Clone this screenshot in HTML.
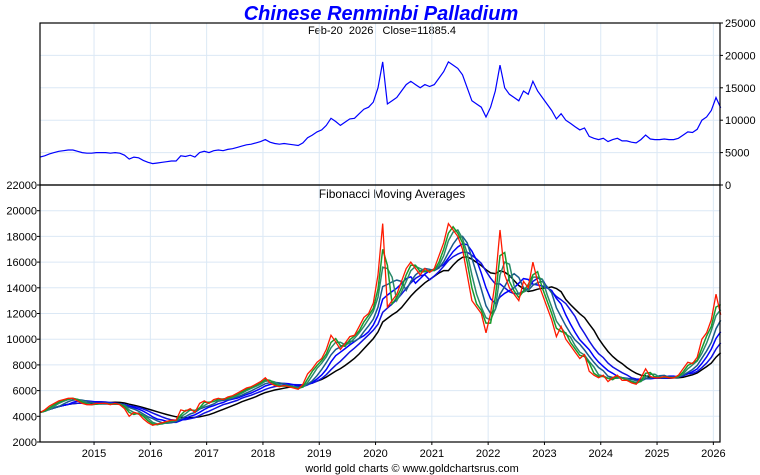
<!DOCTYPE html>
<html><head><meta charset="utf-8"><style>
body{margin:0;background:#fff;width:760px;height:475px;overflow:hidden}
svg{display:block;font-family:"Liberation Sans",sans-serif}
</style></head><body>
<svg id="c" width="760" height="475">
<text x="381" y="20" text-anchor="middle" font-size="20" font-weight="bold" font-style="italic" fill="#0000ff">Chinese Renminbi Palladium</text>
<text x="382" y="34" text-anchor="middle" font-size="11" fill="#000" xml:space="preserve">Feb-20  2026   Close=11885.4</text>
<text x="392" y="198" text-anchor="middle" font-size="12" fill="#000">Fibonacci Moving Averages</text>
<text x="412" y="472" text-anchor="middle" font-size="11" fill="#000">world gold charts © www.goldchartsrus.com</text>
<g id="grid"></g><g id="series"></g><g id="axes"></g>
</svg>
<script>
const years=[2015,2016,2017,2018,2019,2020,2021,2022,2023,2024,2025,2026];
const topTicks=[0,5000,10000,15000,20000,25000];
const botTicks=[2000,4000,6000,8000,10000,12000,14000,16000,18000,20000,22000];
const startYear=2014.04;
const endYear=2026.13;
const prices=[
4300,4500,4800,5000,5200,5300,5400,5400,5200,5000,4900,4900,
5000,5000,5000,4900,5000,4900,4600,4000,4300,4200,3800,3500,
3300,3400,3500,3600,3700,3700,4500,4400,4600,4300,5000,5200,
5000,5300,5400,5300,5500,5600,5800,6000,6200,6300,6500,6700,
7000,6600,6400,6300,6400,6300,6200,6100,6500,7300,7700,8200,
8500,9200,10300,9800,9200,9700,10200,10300,11000,11700,12000,12800,
15000,19000,12500,13000,13500,14500,15500,16000,15500,15000,15500,15200,
15500,16500,17500,19000,18500,18000,17000,15000,13000,12500,12000,10500,
12000,14500,18500,15000,14000,13500,13000,14500,14000,16000,14500,13500,
12500,11500,10200,11000,10000,9500,9000,8500,8800,7500,7200,7000,
7200,6700,7000,7200,6800,6800,6600,6500,7000,7700,7100,7000,
7000,7100,7000,7000,7200,7700,8200,8100,8600,10000,10500,11500,
13500,11900];
const maPeriods=[2,3,5,7,10,14];
const maColors=["#1a9a2a","#2a8a6a","#1a5a8a","#0000ff","#1010e0","#000000"];
(function(){
const L=40,R=720,T1=23,B1=185,T2=185,B2=442;
const xs=y=>L+(y-startYear)*56.3;
const yTop=v=>B1-(v/25000)*(B1-T1);
const yBot=v=>B2-((v-2000)/20000)*(B2-T2);
const NS="http://www.w3.org/2000/svg";
function mk(tag,attrs,parent){const e=document.createElementNS(NS,tag);for(const k in attrs)e.setAttribute(k,attrs[k]);parent.appendChild(e);return e;}
const G=document.getElementById('grid'),S=document.getElementById('series'),A=document.getElementById('axes');
years.forEach(y=>{const x=xs(y);
 const g=mk('line',{x1:x,x2:x,y1:T1,y2:B2,stroke:'#dbe8f5','stroke-width':1},G);
 
 
 const t=mk('text',{x:x,y:457,'text-anchor':'middle','font-size':11},A);t.textContent=y;
 
 
 mk('line',{x1:x,x2:x,y1:B2,y2:B2+3,stroke:'#000'},A);
});
topTicks.forEach(v=>{const y=yTop(v);
 if(v>0&&v<25000){const g=mk('line',{x1:L,x2:R,y1:y,y2:y,stroke:'#dbe8f5'},G);
 
 }
 const t=mk('text',{x:R+5,y:y+4,'font-size':11},A);t.textContent=v;
 
 
 mk('line',{x1:R,x2:R+3,y1:y,y2:y,stroke:'#000'},A);
});
botTicks.forEach(v=>{const y=yBot(v);
 if(v<22000){const g=mk('line',{x1:L,x2:R,y1:y,y2:y,stroke:'#dbe8f5'},G);
 
 }
 const t=mk('text',{x:L-3,y:y+4,'text-anchor':'end','font-size':11},A);t.textContent=v;
 
 
 mk('line',{x1:L-3,x2:L,y1:y,y2:y,stroke:'#000'},A);
});
const xOf=i=>xs(startYear+i*(endYear-startYear)/(prices.length-1));
function pts(arr,yf){return arr.map((v,i)=>xOf(i).toFixed(1)+','+yf(v).toFixed(1)).join(' ');}
const tl=mk('polyline',{points:pts(prices,yTop),fill:'none',stroke:'#0000ff','stroke-width':1.2},S);


const mas=maPeriods.map(p=>prices.map((v,i)=>{const s=Math.max(0,i-p+1);let a=0;for(let j=s;j<=i;j++)a+=prices[j];return a/(i-s+1);}));
for(let k=mas.length-1;k>=0;k--){const l=mk('polyline',{points:pts(mas[k],yBot),fill:'none',stroke:maColors[k],'stroke-width':1.5},S);
 
 }
const bp=mk('polyline',{points:pts(prices,yBot),fill:'none',stroke:'#ff1a00','stroke-width':1.3},S);


const f1=mk('rect',{x:L,y:T1,width:R-L,height:B1-T1,fill:'none',stroke:'#000','stroke-width':1.2},A);


const f2=mk('rect',{x:L,y:T2,width:R-L,height:B2-T2,fill:'none',stroke:'#000','stroke-width':1.2},A);


})();
</script>
</body></html>
